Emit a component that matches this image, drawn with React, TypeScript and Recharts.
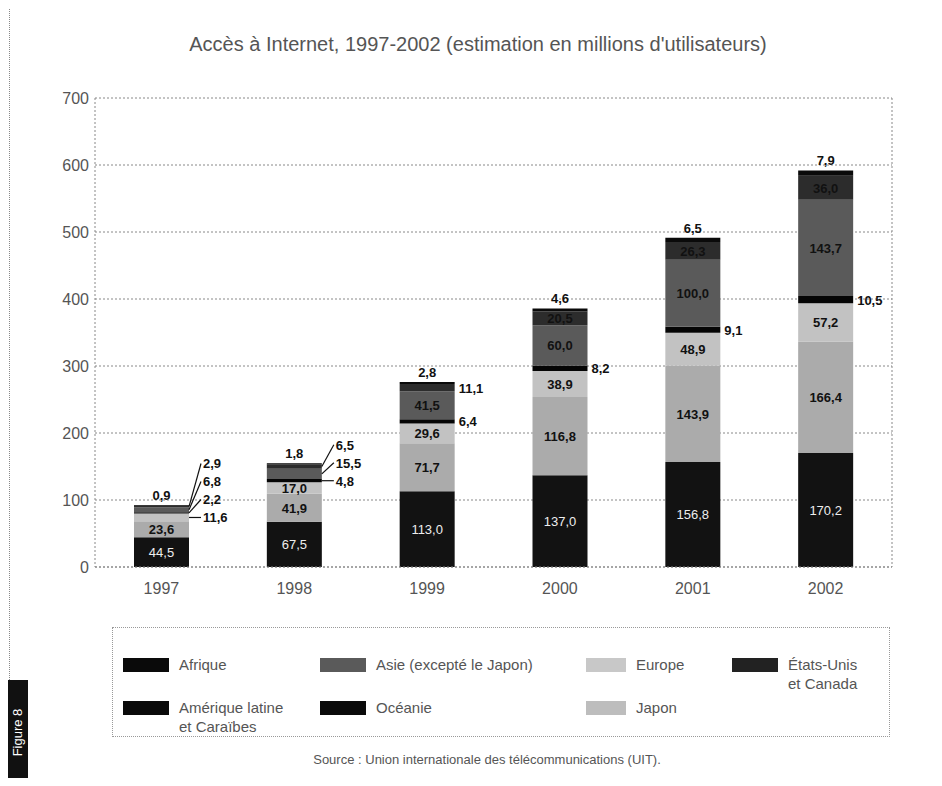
import { Bar, BarChart, CartesianGrid, LabelList, XAxis, YAxis } from "recharts";

const years = ["1997", "1998", "1999", "2000", "2001", "2002"];
const usCanada = [44.5, 67.5, 113.0, 137.0, 156.8, 170.2];
const europe = [23.6, 41.9, 71.7, 116.8, 143.9, 166.4];
const japon = [11.6, 17.0, 29.6, 38.9, 48.9, 57.2];
const oceanie = [2.2, 4.8, 6.4, 8.2, 9.1, 10.5];
const asie = [6.8, 15.5, 41.5, 60.0, 100.0, 143.7];
const ameriqueLatine = [2.9, 6.5, 11.1, 20.5, 26.3, 36.0];
const afrique = [0.9, 1.8, 2.8, 4.6, 6.5, 7.9];
const yTicks = [0, 100, 200, 300, 400, 500, 600, 700];

// bottom to top
const SERIES = [
  { key: "usCanada", values: usCanada, fill: "#121212" },
  { key: "europe", values: europe, fill: "#ababab" },
  { key: "japon", values: japon, fill: "#c2c2c2" },
  { key: "oceanie", values: oceanie, fill: "#050505" },
  { key: "asie", values: asie, fill: "#5a5a5a" },
  { key: "ameriqueLatine", values: ameriqueLatine, fill: "#2c2c2c" },
  { key: "afrique", values: afrique, fill: "#0a0a0a" },
];

const data = years.map((year, i) => {
  const row: Record<string, any> = { year };
  SERIES.forEach((s) => (row[s.key] = s.values[i]));
  return row;
});

const fmt = (v: number) => v.toFixed(1).replace(".", ",");
const FONT = "'Liberation Sans', Arial, sans-serif";
const GRAY = "#555";

const isOutside = (key: string, v: number) => key !== "afrique" && key !== "usCanada" && v < 16;

const makeLabel = (key: string) => (props: any) => {
  const vb = props.viewBox && props.viewBox.height !== undefined ? props.viewBox : props;
  const x = Number(vb.x);
  const y = Number(vb.y);
  const width = Number(vb.width);
  const height = Number(vb.height);
  const index = props.index;
  const value = Number(props.value);
  if (!value || index === undefined) return null;
  const sIdx = SERIES.findIndex((s) => s.key === key);

  if (key === "afrique") {
    return (
      <text x={x + width / 2} y={y - 5} textAnchor="middle" fontFamily={FONT} fontSize={13} fontWeight="bold" fill="#111">
        {fmt(value)}
      </text>
    );
  }

  if (!isOutside(key, value)) {
    const us = key === "usCanada";
    return (
      <text
        x={x + width / 2}
        y={y + height / 2 + 5}
        textAnchor="middle"
        fontFamily={FONT}
        fontSize={13}
        fontWeight={us ? "normal" : "bold"}
        fill={us ? "#eee" : "#111"}
      >
        {fmt(value)}
      </text>
    );
  }

  // lay out all right-side labels of this year, bottom to top
  const k = height / value;
  let below = 0;
  for (let j = 0; j < sIdx; j++) below += SERIES[j].values[index];
  const base = y + height + below * k;
  let cum = 0;
  const outs: { key: string; ideal: number }[] = [];
  SERIES.forEach((s) => {
    const v = s.values[index];
    if (isOutside(s.key, v)) outs.push({ key: s.key, ideal: base - (cum + v / 2) * k });
    cum += v;
  });
  let prev = Infinity;
  let displaced = false;
  const pos: Record<string, number> = {};
  outs.forEach((o) => {
    const p = Math.min(o.ideal, prev - 18);
    if (o.ideal - p > 2) displaced = true;
    pos[o.key] = p;
    prev = p;
  });
  const cy = y + height / 2;
  const py = pos[key];
  const right = x + width;
  const lx = displaced ? right + 14 : right + 4;
  return (
    <g>
      {displaced && <line x1={right} y1={cy} x2={lx - 2} y2={py} stroke="#111" strokeWidth={1.2} />}
      <text x={lx} y={py + 5} fontFamily={FONT} fontSize={13} fontWeight="bold" fill="#111">
        {fmt(value)}
      </text>
    </g>
  );
};

const LEGEND = [
  { label: ["Afrique"], fill: "#0a0a0a", left: 115, top: 647, w: 46 },
  { label: ["Asie (excepté le Japon)"], fill: "#5a5a5a", left: 312, top: 647, w: 46 },
  { label: ["Europe"], fill: "#c8c8c8", left: 578, top: 647, w: 40 },
  { label: ["États-Unis", "et Canada"], fill: "#222", left: 724, top: 647, w: 46 },
  { label: ["Amérique latine", "et Caraïbes"], fill: "#0a0a0a", left: 115, top: 690, w: 46 },
  { label: ["Océanie"], fill: "#0a0a0a", left: 312, top: 690, w: 46 },
  { label: ["Japon"], fill: "#bdbdbd", left: 578, top: 690, w: 40 },
];

export default function App() {
  return (
    <div style={{ position: "relative", width: 926, height: 770, fontFamily: FONT }}>
      <div style={{ position: "absolute", left: -8, top: -3, width: 934, borderTop: "1px dotted #888" }} />
      <div style={{ position: "absolute", left: 1, top: -3, height: 775, borderLeft: "1px dotted #888" }} />
      <div
        style={{
          position: "absolute",
          left: 0,
          top: 25,
          width: 940,
          textAlign: "center",
          fontSize: 20,
          color: GRAY,
        }}
      >
        Accès à Internet, 1997-2002 (estimation en millions d'utilisateurs)
      </div>
      <div style={{ position: "absolute", left: 0, top: 0 }}>
        <BarChart width={926} height={600} data={data} margin={{ top: 90, right: 41, left: 0, bottom: 0 }} barSize={55}>
          <CartesianGrid vertical={false} stroke="#888" strokeDasharray="2 2" />
          <XAxis
            dataKey="year"
            height={41}
            tickLine={false}
            axisLine={{ stroke: "#888", strokeDasharray: "2 2" }}
            tick={{ fill: GRAY, fontSize: 16, fontFamily: FONT }}
            tickMargin={10}
          />
          <YAxis
            width={87}
            domain={[0, 700]}
            ticks={yTicks}
            interval={0}
            tickLine={false}
            axisLine={{ stroke: "#888", strokeDasharray: "2 2" }}
            tick={{ fill: GRAY, fontSize: 16, fontFamily: FONT }}
            tickMargin={0}
          />
          <YAxis
            yAxisId="right"
            orientation="right"
            width={1}
            domain={[0, 700]}
            tick={false}
            tickLine={false}
            axisLine={{ stroke: "#888", strokeDasharray: "2 2" }}
          />
          {SERIES.map((s) => (
            <Bar key={s.key} dataKey={s.key} stackId="a" fill={s.fill} isAnimationActive={false}>
              <LabelList dataKey={s.key} content={makeLabel(s.key)} />
            </Bar>
          ))}
        </BarChart>
      </div>
      <div
        style={{
          position: "absolute",
          left: 104,
          top: 619,
          width: 776,
          height: 108,
          border: "1px dotted #999",
        }}
      />
      {LEGEND.map((l) => (
        <div key={l.label[0]} style={{ position: "absolute", left: l.left, top: l.top, display: "flex", alignItems: "flex-start" }}>
          <div style={{ width: l.w, height: 14, background: l.fill, marginTop: 3 }} />
          <div style={{ marginLeft: 10, fontSize: 15, color: GRAY, lineHeight: "19px" }}>
            {l.label.map((t) => (
              <div key={t}>{t}</div>
            ))}
          </div>
        </div>
      ))}
      <div style={{ position: "absolute", left: 0, top: 744, width: 958, textAlign: "center", fontSize: 13, color: GRAY }}>
        Source : Union internationale des télécommunications (UIT).
      </div>
      <div
        style={{
          position: "absolute",
          left: 0,
          top: 672,
          width: 20,
          height: 104,
          background: "#111",
          display: "flex",
          alignItems: "center",
          justifyContent: "center",
        }}
      >
        <div style={{ transform: "rotate(-90deg)", color: "#fff", fontSize: 13, whiteSpace: "nowrap" }}>Figure 8</div>
      </div>
    </div>
  );
}
